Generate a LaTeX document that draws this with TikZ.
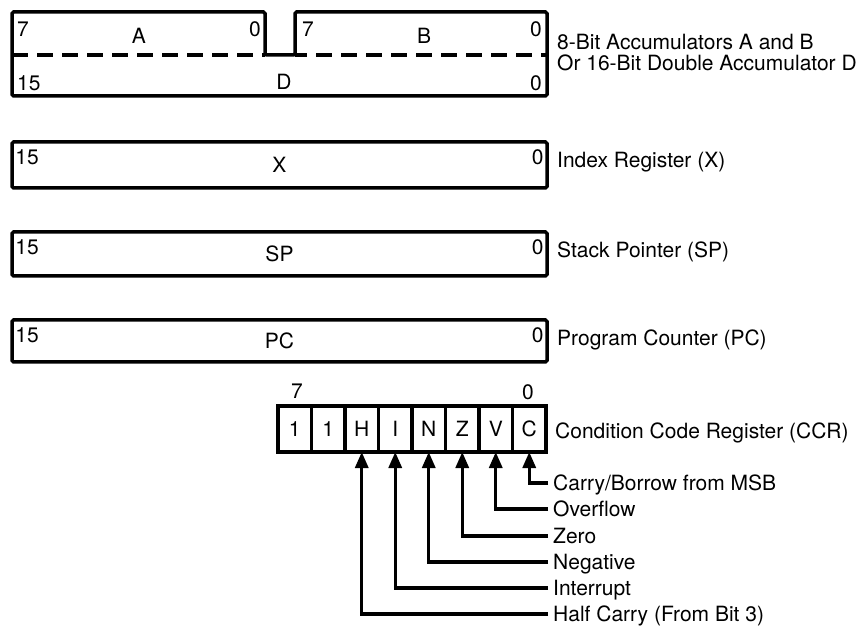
\documentclass[tikz,border=0pt]{standalone}
\usepackage{fontspec}
\setmainfont{TeX Gyre Heros}
\usetikzlibrary{arrows.meta}
\begin{document}
\begin{tikzpicture}[x=1pt,y=-1pt,
  txt/.style={font=\fontsize{21}{25}\selectfont, inner sep=0pt, text height=15pt, text depth=0pt},
  lbl/.style={txt, anchor=west, inner xsep=5pt},
  reg/.style={draw, line width=3.5pt, rounded corners=1.5pt, minimum width=535pt, inner sep=0pt, txt},
  cell/.style={draw, line width=3.5pt, minimum width=33.5pt, minimum height=46pt, inner sep=0pt, txt},
  flag/.style={line width=3.2pt, -{Triangle[length=16pt,width=13pt]}, shorten >=-1.75pt},
  acc/.style={line width=3.5pt, rounded corners=1.5pt},
  dashln/.style={line width=3.2pt, dash pattern=on 16pt off 9pt}
]
\useasboundingbox (0,0) rectangle (860,628);

% ---- Accumulators A, B / D
\draw[acc] (12,96) -- (12,12) -- (265,12) -- (265,55) -- (295,55) -- (295,12) -- (547,12) -- (547,96) -- cycle;
\draw[dashln] (12,55) -- (265,55);
\draw[dashln, dash phase=4pt] (295,55) -- (547,55);
\node[txt, anchor=west] (a7) at (17,29) {7};
\node[txt] (aA) at (139,36) {A};
\node[txt, anchor=east] (a0) at (261,29) {0};
\node[txt, anchor=west] (b7) at (302,29) {7};
\node[txt] (bB) at (424,36) {B};
\node[txt, anchor=east] (b0) at (542,29) {0};
\node[txt, anchor=west] (d15) at (17,83) {15};
\node[txt] (dD) at (284,82) {D};
\node[txt, anchor=east] (d0) at (542,83) {0};
\node[lbl] (accL1) at (552,42) {8-Bit Accumulators A and B};
\node[lbl] (accL2) at (552,63) {Or 16-Bit Double Accumulator D};

% ---- 16-bit registers
\node[reg, minimum height=46pt] (X) at (279.5,165) {X};
\node[reg, minimum height=44pt] (SP) at (279.5,254) {SP};
\node[reg, minimum height=42pt] (PC) at (279.5,341) {PC};
\foreach \r in {X,SP,PC}{
  \node[txt, anchor=west] (\r15) at ([xshift=5pt,yshift=-17pt]\r.north west) {15};
  \node[txt, anchor=east] (\r0) at ([xshift=-5pt,yshift=-17pt]\r.north east) {0};
}
\node[lbl] (XL) at (552,160) {Index Register (X)};
\node[lbl] (SPL) at (552,250) {Stack Pointer (SP)};
\node[lbl] (PCL) at (552,338) {Program Counter (PC)};

% ---- Condition code register
\node[cell] (b7c) at (294.75,429) {1};
\node[cell] (b6c) at (328.25,429) {1};
\node[cell] (cH) at (361.75,429) {H};
\node[cell] (cI) at (395.25,429) {I};
\node[cell] (cN) at (428.75,429) {N};
\node[cell] (cZ) at (462.25,429) {Z};
\node[cell] (cV) at (495.75,429) {V};
\node[cell] (cC) at (529.25,429) {C};
\node[txt] (ccr7) at (297,391) {7};
\node[txt] (ccr0) at (528,392) {0};
\node[lbl] (CCRL) at (550,431) {Condition Code Register (CCR)};

\node[lbl] (lC) at (548,483) {Carry/Borrow from MSB};
\node[lbl] (lV) at (548,509) {Overflow};
\node[lbl] (lZ) at (548,536) {Zero};
\node[lbl] (lN) at (548,562) {Negative};
\node[lbl] (lI) at (548,588) {Interrupt};
\node[lbl] (lH) at (548,614) {Half Carry (From Bit 3)};

\foreach \f in {C,V,Z,N,I,H}{
  \draw[flag] (l\f.west) -| (c\f.south);
}
\end{tikzpicture}
\end{document}
